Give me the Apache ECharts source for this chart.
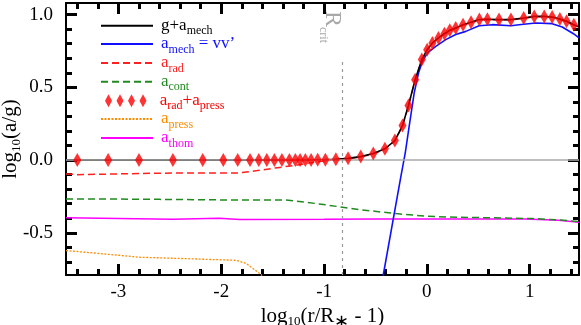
<!DOCTYPE html>
<html><head><meta charset="utf-8">
<script src="https://cdn.jsdelivr.net/npm/echarts@6/dist/echarts.min.js"></script>
<style>html,body{margin:0;padding:0;background:#fff}#c{width:581px;height:325px}</style>
</head><body><div id="c"></div>
<script>
// ---- axis ranges & ticks ----
const xMin = -3.51, xMax = 1.48, yMin = -0.79, yMax = 1.08;
const xMajorTicks = [-3, -2, -1, 0, 1];
const xMinorTicks = [-3.4, -3.2, -2.8, -2.6, -2.4, -2.2, -1.8, -1.6, -1.4, -1.2, -0.8, -0.6, -0.4, -0.2, 0.2, 0.4, 0.6, 0.8, 1.2, 1.4];
const yMajorTicks = [-0.5, 0, 0.5, 1.0];
const yMinorTicks = [-0.7, -0.6, -0.4, -0.3, -0.2, -0.1, 0.1, 0.2, 0.3, 0.4, 0.6, 0.7, 0.8, 0.9];
const rCrit = -0.82;
const rCritTop = 0.70;

// ---- series: g + a_mech (black) ----
const gMechX = [-3.51, -1.18, -1.062, -0.987, -0.885, -0.766, -0.643, -0.521, -0.408, -0.311, -0.237, -0.179, -0.114, -0.049, 0.003, 0.054, 0.113, 0.171, 0.223, 0.281, 0.352, 0.430, 0.511, 0.589, 0.702, 0.818, 0.942, 1.045, 1.142, 1.219, 1.294, 1.359, 1.430, 1.48];
const gMechY = [0.0, 0.0, 0.002, 0.003, 0.006, 0.012, 0.024, 0.045, 0.078, 0.134, 0.237, 0.375, 0.553, 0.691, 0.759, 0.805, 0.840, 0.869, 0.892, 0.908, 0.931, 0.947, 0.966, 0.968, 0.966, 0.966, 0.977, 0.988, 0.988, 0.984, 0.970, 0.954, 0.931, 0.915];

// ---- a_mech = vv' (blue) ----
const aMechX = [-0.47, -0.424, -0.252, -0.21, -0.172, -0.123, -0.081, -0.043, 0.006, 0.087, 0.184, 0.281, 0.379, 0.508, 0.637, 0.818, 0.896, 1.058, 1.219, 1.317, 1.430, 1.48];
const aMechY = [-0.96, -0.79, -0.11, 0.05, 0.232, 0.462, 0.599, 0.679, 0.737, 0.782, 0.828, 0.863, 0.885, 0.924, 0.931, 0.924, 0.931, 0.943, 0.938, 0.915, 0.867, 0.84];

// ---- a_rad (red dashed) ----
const aRadX = [-3.51, -3.4, -3.0, -2.6, -2.2, -1.82, -1.65, -1.45, -1.27, -1.08, -0.95, -0.885, -0.766, -0.643, -0.521, -0.408, -0.311, -0.237, -0.179, -0.114, -0.049, 0.003, 0.054, 0.113, 0.171, 0.223, 0.281, 0.352, 0.430, 0.511, 0.589, 0.702, 0.818, 0.942, 1.045, 1.142, 1.219, 1.294, 1.359, 1.430, 1.48];
const aRadY = [-0.095, -0.1, -0.095, -0.09, -0.088, -0.088, -0.072, -0.052, -0.035, -0.013, -0.002, 0.004, 0.010, 0.022, 0.043, 0.076, 0.132, 0.235, 0.372, 0.550, 0.688, 0.757, 0.803, 0.838, 0.867, 0.890, 0.906, 0.929, 0.945, 0.964, 0.966, 0.964, 0.964, 0.975, 0.986, 0.986, 0.982, 0.968, 0.952, 0.929, 0.91];

// ---- a_cont (green dashed) ----
const aContX = [-3.51, -3.0, -2.6, -1.95, -1.37, -1.17, -0.98, -0.82, -0.66, -0.3, -0.01, 0.3, 0.637, 1.025, 1.284, 1.48];
const aContY = [-0.267, -0.268, -0.27, -0.274, -0.274, -0.29, -0.308, -0.324, -0.34, -0.368, -0.386, -0.393, -0.397, -0.402, -0.411, -0.423];

// ---- a_rad + a_press (red diamonds) ----
const aSumX = [-3.40, -3.10, -2.80, -2.47, -2.18, -1.98, -1.84, -1.72, -1.635, -1.557, -1.483, -1.41, -1.337, -1.279, -1.233, -1.182, -1.126, -1.062, -0.987, -0.885, -0.766, -0.643, -0.521, -0.408, -0.311, -0.237, -0.179, -0.114, -0.049, 0.003, 0.054, 0.113, 0.171, 0.223, 0.281, 0.352, 0.430, 0.511, 0.589, 0.702, 0.818, 0.942, 1.045, 1.142, 1.219, 1.294, 1.359, 1.430];
const aSumY = [0.0, 0.0, 0.0, 0.0, 0.0, 0.0, 0.0, 0.0, 0.0, 0.0, 0.0, 0.0, 0.0, 0.0, 0.0, 0.0, 0.001, 0.002, 0.003, 0.006, 0.012, 0.024, 0.045, 0.078, 0.134, 0.237, 0.375, 0.553, 0.691, 0.759, 0.805, 0.840, 0.869, 0.892, 0.908, 0.931, 0.947, 0.966, 0.968, 0.966, 0.966, 0.977, 0.988, 0.988, 0.984, 0.970, 0.954, 0.931];

// ---- a_press (orange dotted) ----
const aPressX = [-3.51, -3.25, -2.79, -2.28, -1.855, -1.757, -1.677, -1.612, -1.57];
const aPressY = [-0.622, -0.638, -0.668, -0.679, -0.689, -0.711, -0.753, -0.787, -0.84];

// ---- a_thom (magenta) ----
const aThomX = [-3.51, -3.0, -2.47, -2.02, -1.82, -1.0, -0.5, 0.5, 0.96, 1.28, 1.48];
const aThomY = [-0.397, -0.402, -0.407, -0.400, -0.409, -0.407, -0.405, -0.405, -0.405, -0.414, -0.427];

const zip = (xs, ys) => xs.map((x, i) => [x, ys[i]]);
const FONT = 'Liberation Serif';

const names = ['g+amech', 'amech', 'arad', 'acont', 'arad+apress', 'apress', 'athom'];
const labels = {
  'g+amech': '{f|g+a}{s|mech}',
  'amech': '{f|a}{s|mech}{m| = vv\u2019}',
  'arad': '{f|a}{s|rad}',
  'acont': '{f|a}{s|cont}',
  'arad+apress': '{f|a}{s|rad}{m|+a}{s|press}',
  'apress': '{f|a}{s|press}',
  'athom': '{f|a}{s|thom}'
};
const colors = {
  'g+amech': '#000000', 'amech': '#1010ff', 'arad': '#ff2020', 'acont': '#208a20',
  'arad+apress': '#ff0000', 'apress': '#ff8c00', 'athom': '#ff00ff'
};
const legendCenters = [24.7, 43, 62, 80.7, 99.7, 118, 137];
const diamondIcon = 'path://M3.5,0L7,6.5L3.5,13L0,6.5Z M15,0L18.5,6.5L15,13L11.5,6.5Z M26.5,0L30,6.5L26.5,13L23,6.5Z M38,0L41.5,6.5L38,13L34.5,6.5Z';

const legends = names.map((n, i) => {
  const isD = n === 'arad+apress';
  const c = colors[n];
  return {
    show: true,
    orient: 'vertical',
    left: isD ? 105 : 100,
    top: legendCenters[i] - 7.5,
    padding: 0,
    itemWidth: isD ? 42 : 52,
    itemHeight: isD ? 13 : 14,
    selectedMode: false,
    itemStyle: isD ? { color: c } : { opacity: 0, borderWidth: 0 },
    data: [isD ? { name: n, icon: diamondIcon } : { name: n }],
    formatter: nm => labels[nm],
    textStyle: {
      color: c, fontFamily: FONT, fontSize: 17,
      rich: {
        f: { color: c, fontFamily: FONT, fontSize: 17, padding: [0, 0, 0, isD ? 8 : 3] },
        m: { color: c, fontFamily: FONT, fontSize: 17 },
        s: { color: c, fontFamily: FONT, fontSize: 12, padding: [11, 0, 0, 0] }
      }
    }
  };
});

function axX(pos, grid, ticks, len, w, withLine, showLabel) {
  return {
    type: 'value', gridIndex: grid, position: pos, min: xMin, max: xMax,
    axisLine: { show: withLine, onZero: false, lineStyle: { color: '#000', width: 2 } },
    axisTick: { show: true, inside: true, length: len, customValues: ticks, lineStyle: { color: '#000', width: w } },
    axisLabel: { show: showLabel, customValues: ticks, margin: 8, color: '#000', fontFamily: FONT, fontSize: 19, formatter: v => String(v) },
    splitLine: { show: false }
  };
}
function axY(pos, grid, ticks, len, w, withLine, showLabel) {
  return {
    type: 'value', gridIndex: grid, position: pos, min: yMin, max: yMax,
    axisLine: { show: withLine, onZero: false, lineStyle: { color: '#000', width: 2 } },
    axisTick: { show: true, inside: true, length: len, customValues: ticks, lineStyle: { color: '#000', width: w } },
    axisLabel: { show: showLabel, customValues: ticks, margin: 13, color: '#000', fontFamily: FONT, fontSize: 19, formatter: v => v.toFixed(1) },
    splitLine: { show: false }
  };
}

// tick lengths / widths (the renderer here shows only ticks drawn at width 3)
const xAxes = [
  axX('bottom', 0, xMajorTicks, 11, 3, true, true),
  axX('top', 0, xMajorTicks, 11, 3, true, false),
  axX('bottom', 1, xMinorTicks, 6, 3, false, false),
  axX('top', 1, xMinorTicks, 6, 3, false, false)
];
const yAxes = [
  axY('left', 0, yMajorTicks, 11, 3, true, true),
  axY('right', 0, yMajorTicks, 11, 3, true, false),
  axY('left', 1, yMinorTicks, 6, 3, false, false),
  axY('right', 1, yMinorTicks, 6, 3, false, false)
];
Object.assign(xAxes[0], {
  name: 'log{s|10}(r/R{t|\u2217} - 1)', nameLocation: 'middle', nameGap: 26, nameMoveOverlap: false,
  nameTextStyle: { color: '#000', fontFamily: FONT, fontSize: 21,
    rich: { s: { fontFamily: FONT, fontSize: 13, padding: [12, 0, 0, 0] }, t: { fontFamily: FONT, fontSize: 18, padding: [12, 0, 0, 0] } } }
});
Object.assign(yAxes[0], {
  name: 'log{s|10}(a/g)', nameLocation: 'middle', nameGap: 43, nameRotate: 90, nameMoveOverlap: false,
  nameTextStyle: { color: '#000', fontFamily: FONT, fontSize: 21,
    rich: { s: { fontFamily: FONT, fontSize: 13, padding: [12, 0, 0, 0] } } }
});

function lineSeries(name, xs, ys, color, width, dash, z) {
  return {
    name, type: 'line', data: zip(xs, ys), showSymbol: false, symbol: 'none',
    xAxisIndex: 0, yAxisIndex: 0, clip: true, z,
    lineStyle: { color, width, type: dash || 'solid' }, itemStyle: { color },
    emphasis: { disabled: true }, animation: false
  };
}

const gridRect = { left: 66, right: 2, top: 3, bottom: 50, outerBoundsMode: 'none' };
const option = {
  backgroundColor: '#fff',
  animation: false,
  grid: [Object.assign({}, gridRect), Object.assign({}, gridRect)],
  xAxis: xAxes,
  yAxis: yAxes,
  legend: legends,
  series: [
    {
      name: 'refs', type: 'line', data: [], xAxisIndex: 0, yAxisIndex: 0, z: 1,
      markLine: {
        silent: true, symbol: 'none', animation: false, label: { show: false },
        data: [
          { yAxis: 0, lineStyle: { color: '#aaaaaa', width: 1.5, type: 'solid' } },
          [{ coord: [rCrit, yMin], lineStyle: { color: '#999999', width: 1.2, type: [3, 4] } }, { coord: [rCrit, rCritTop] }]
        ]
      },
      markPoint: {
        silent: true, animation: false, symbol: 'circle', symbolSize: 0,
        data: [{ coord: [rCrit, yMax] }],
        label: {
          show: true, position: 'inside', rotate: -90, align: 'left', verticalAlign: 'middle',
          offset: [8, 10], formatter: '{r|R}{c|crit}', color: '#a8a8a8',
          rich: {
            r: { fontFamily: FONT, fontSize: 24, color: '#a8a8a8' },
            c: { fontFamily: FONT, fontSize: 12, color: '#a8a8a8', padding: [18, 0, 0, 0] }
          }
        }
      }
    },
    lineSeries('apress', aPressX, aPressY, colors['apress'], 1.3, [2, 1.5], 2),
    lineSeries('athom', aThomX, aThomY, colors['athom'], 1.5, 'solid', 2),
    lineSeries('acont', aContX, aContY, colors['acont'], 1.5, [7, 4], 2),
    lineSeries('arad', aRadX, aRadY, colors['arad'], 1.5, [7, 4], 3),
    lineSeries('amech', aMechX, aMechY, colors['amech'], 1.6, 'solid', 3),
    lineSeries('g+amech', gMechX, gMechY, colors['g+amech'], 1.6, 'solid', 4),
    {
      name: 'arad+apress', type: 'scatter', data: zip(aSumX, aSumY), symbol: 'diamond', symbolSize: [8, 14],
      xAxisIndex: 0, yAxisIndex: 0, z: 5, itemStyle: { color: colors['arad+apress'] },
      emphasis: { disabled: true }, animation: false
    }
  ]
};

const chart = echarts.init(document.getElementById('c'), null, { renderer: 'canvas' });
chart.setOption(option);
</script>
</body></html>
